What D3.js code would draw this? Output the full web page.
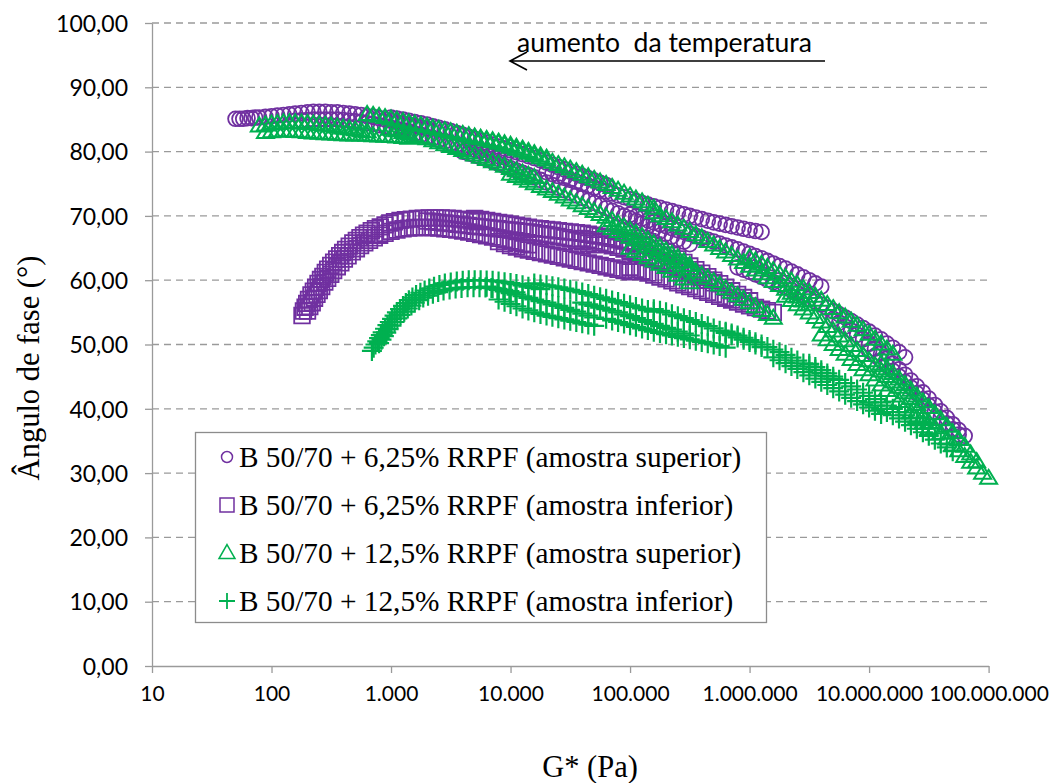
<!DOCTYPE html>
<html><head><meta charset="utf-8">
<script src="https://cdn.jsdelivr.net/npm/d3@7"></script>
<style>body{margin:0;background:#fff}svg{display:block}</style>
</head><body><svg id="c" width="1049" height="783"></svg>
<script>
// ---- data ----
const xTickValues = [10,100,1000,1e4,1e5,1e6,1e7,1e8];
const yTickValues = [0,10,20,30,40,50,60,70,80,90,100];
const seriesNames = [
 "B 50/70 + 6,25% RRPF (amostra superior)",
 "B 50/70 + 6,25% RRPF (amostra inferior)",
 "B 50/70 + 12,5% RRPF (amostra superior)",
 "B 50/70 + 12,5% RRPF (amostra inferior)"];
const annotationText = "aumento  da temperatura";
const xTitle = "G* (Pa)", yTitle = "Ângulo de fase (°)";

// B 50/70 + 6,25% (amostra superior) – [G* (Pa), phase angle (°)] per isotherm
const sup625 = [
 [[50,85.1],[54,85.1],[58,85.1],[63,85.2],[68,85.2],[73,85.3],[79,85.3],[89,85.4],[100,85.5],[112,85.6],[126,85.7],[141,85.8],[158,85.9],[178,86.0],[200,86.1],[224,86.2],[251,86.2],[282,86.2],[316,86.1],[355,86.1],[398,86.0],[447,85.9],[501,85.8],[562,85.7],[631,85.5],[708,85.4],[794,85.2],[891,85.0],[1000,84.8],[1120,84.6],[1260,84.4],[1410,84.2],[1580,84.0],[1780,83.8],[2000,83.6]],
 [[158,84.8],[178,84.85],[200,84.9],[224,85.0],[251,85.0],[282,85.0],[316,85.0],[355,85.0],[398,84.9],[447,84.8],[501,84.7],[562,84.6],[631,84.4],[708,84.3],[794,84.1],[891,83.9],[1000,83.7],[1120,83.5],[1260,83.3],[1410,83.1],[1580,82.8],[1780,82.6],[2000,82.3],[2240,82.1],[2510,81.8],[2820,81.6],[3160,81.3],[3550,81.1],[3980,80.8],[4470,80.6],[5010,80.3],[5620,80.1],[6310,79.8],[7080,79.6],[7940,79.3],[8910,79.1],[1e4,78.8]],
 [[1000,85.3],[1120,85.15],[1260,85.0],[1410,84.8],[1580,84.6],[1780,84.4],[2000,84.2],[2240,83.95],[2510,83.7],[2820,83.45],[3160,83.2],[3550,82.9],[3980,82.6],[4470,82.3],[5010,82.0],[5620,81.7],[6310,81.4],[7080,81.1],[7940,80.8],[8910,80.5],[1e4,80.2],[1.12e4,79.9],[1.26e4,79.6],[1.41e4,79.3],[1.58e4,79.0],[1.78e4,78.65],[2e4,78.3],[2.24e4,77.95],[2.51e4,77.6],[2.82e4,77.25],[3.16e4,76.9],[3.55e4,76.55],[3.98e4,76.2],[4.47e4,75.85],[5.01e4,75.5],[5.62e4,75.15],[6.31e4,74.8]],
 [[2e4,76.8],[2.24e4,76.5],[2.51e4,76.2],[2.82e4,75.9],[3.16e4,75.6],[3.55e4,75.3],[3.98e4,75.0],[4.47e4,74.7],[5.01e4,74.4],[5.62e4,74.1],[6.31e4,73.8],[7.08e4,73.5],[7.94e4,73.2],[8.91e4,72.9],[1e5,72.6],[1.12e5,72.3],[1.26e5,72.0],[1.41e5,71.75],[1.58e5,71.5],[1.78e5,71.25],[2e5,71.0],[2.24e5,70.75],[2.51e5,70.5],[2.82e5,70.25],[3.16e5,70.0],[3.55e5,69.75],[3.98e5,69.5],[4.47e5,69.25],[5.01e5,69.0],[5.62e5,68.8],[6.31e5,68.6],[7.08e5,68.4],[7.94e5,68.2],[8.91e5,68.0],[1e6,67.8],[1.12e6,67.65],[1.26e6,67.5]],
 [[3980,80.0],[4470,79.7],[5010,79.4],[5620,79.1],[6310,78.8],[7080,78.45],[7940,78.1],[8910,77.75],[1e4,77.4],[1.12e4,77.05],[1.26e4,76.7],[1.41e4,76.35],[1.58e4,76.0],[1.78e4,75.6],[2e4,75.2],[2.24e4,74.8],[2.51e4,74.4],[2.82e4,74.0],[3.16e4,73.6],[3.55e4,73.2],[3.98e4,72.8],[4.47e4,72.4],[5.01e4,72.0],[5.62e4,71.6],[6.31e4,71.2],[7.08e4,70.8],[7.94e4,70.4],[8.91e4,70.0],[1e5,69.6],[1.12e5,69.2],[1.26e5,68.8],[1.41e5,68.4],[1.58e5,68.0],[1.78e5,67.6],[2e5,67.2],[2.24e5,66.8],[2.51e5,66.4],[2.82e5,66.0],[3.16e5,65.6]],
 [[1e5,70.2],[1.12e5,69.9],[1.26e5,69.6],[1.41e5,69.3],[1.58e5,69.0],[1.78e5,68.7],[2e5,68.4],[2.24e5,68.1],[2.51e5,67.8],[2.82e5,67.5],[3.16e5,67.2],[3.55e5,66.9],[3.98e5,66.6],[4.47e5,66.3],[5.01e5,66.0],[5.62e5,65.7],[6.31e5,65.4],[7.08e5,65.1],[7.94e5,64.8],[8.91e5,64.45],[1e6,64.1],[1.12e6,63.75],[1.26e6,63.4],[1.41e6,63.0],[1.58e6,62.6],[1.78e6,62.2],[2e6,61.8],[2.24e6,61.35],[2.51e6,60.9],[2.82e6,60.45],[3.16e6,60.0],[3.55e6,59.5],[3.98e6,59.0]],
 [[7.94e5,62.0],[8.91e5,61.65],[1e6,61.3],[1.12e6,60.9],[1.26e6,60.5],[1.41e6,60.1],[1.58e6,59.7],[1.78e6,59.3],[2e6,58.9],[2.24e6,58.45],[2.51e6,58.0],[2.82e6,57.55],[3.16e6,57.1],[3.55e6,56.65],[3.98e6,56.2],[4.47e6,55.7],[5.01e6,55.2],[5.62e6,54.7],[6.31e6,54.2],[7.08e6,53.65],[7.94e6,53.1],[8.91e6,52.55],[1e7,52.0],[1.12e7,51.4],[1.26e7,50.8],[1.41e7,50.15],[1.58e7,49.5],[1.78e7,48.8],[2e7,48.0]],
 [[5.01e6,54.0],[5.62e6,53.4],[6.31e6,52.8],[7.08e6,52.15],[7.94e6,51.5],[8.91e6,50.8],[1e7,50.1],[1.12e7,49.35],[1.26e7,48.6],[1.41e7,47.8],[1.58e7,47.0],[1.78e7,46.15],[2e7,45.3],[2.24e7,44.4],[2.51e7,43.5],[2.82e7,42.55],[3.16e7,41.6],[3.55e7,40.6],[3.98e7,39.6],[4.47e7,38.6],[5.01e7,37.6],[5.62e7,36.7],[6.31e7,35.8]],
 [[1e7,49.0],[1.12e7,48.25],[1.26e7,47.5],[1.41e7,46.7],[1.58e7,45.9],[1.78e7,45.05],[2e7,44.2],[2.24e7,43.3],[2.51e7,42.4],[2.82e7,41.45],[3.16e7,40.5],[3.55e7,39.55],[3.98e7,38.6],[4.47e7,37.7],[5.01e7,36.8],[5.62e7,36.0]]
];
// B 50/70 + 6,25% (amostra inferior)
const inf625 = [
 [[180,54.5],[185,55.2],[191,55.8],[197,56.4],[204,57.0],[214,57.7],[224,58.3],[234,58.9],[245,59.5],[257,60.1],[269,60.6],[282,61.2],[295,61.7],[313,62.3],[331,62.8],[351,63.3],[372,63.8],[394,64.3],[417,64.8],[447,65.3],[479,65.8],[513,66.2],[550,66.6],[589,67.0],[631,67.3],[684,67.7],[741,68.0],[813,68.3],[891,68.6],[977,68.9],[1070,69.1],[1190,69.3],[1320,69.4],[1480,69.5],[1660,69.6],[1860,69.65],[2090,69.7],[2340,69.7],[2630,69.7],[2950,69.65],[3310,69.6],[3720,69.5],[4170,69.4],[4680,69.25],[5250,69.1]],
 [[200,55.2],[209,55.9],[219,56.5],[229,57.2],[240,57.8],[251,58.4],[263,59.0],[279,59.7],[295,60.3],[313,60.9],[331,61.5],[355,62.1],[380,62.7],[407,63.3],[437,63.8],[474,64.4],[513,64.9],[556,65.4],[603,65.8],[661,66.2],[724,66.6],[803,67.0],[891,67.3],[1000,67.6],[1120,67.8],[1260,68.0],[1410,68.1],[1580,68.2],[1780,68.2],[2000,68.2],[2240,68.2],[2510,68.1],[2820,68.0],[3160,67.9],[3550,67.8],[3980,67.65],[4470,67.5],[5010,67.3],[5620,67.1],[6310,66.9],[7080,66.7],[7940,66.5],[8910,66.3],[1e4,66.1],[1.12e4,65.9],[1.26e4,65.7],[1.41e4,65.5]],
 [[2000,69.2],[2240,69.1],[2510,69.0],[2820,68.9],[3160,68.8],[3550,68.7],[3980,68.6],[4470,68.5],[5010,68.4],[5620,68.3],[6310,68.2],[7080,68.1],[7940,68.0],[8910,67.9],[1e4,67.8],[1.12e4,67.7],[1.26e4,67.6],[1.41e4,67.5],[1.58e4,67.4],[1.78e4,67.25],[2e4,67.1],[2.24e4,66.95],[2.51e4,66.8],[2.82e4,66.6],[3.16e4,66.4],[3.55e4,66.2],[3.98e4,66.0],[4.47e4,65.75],[5.01e4,65.5]],
 [[5010,69.6],[5620,69.45],[6310,69.3],[7080,69.15],[7940,69.0],[8910,68.85],[1e4,68.7],[1.12e4,68.55],[1.26e4,68.4],[1.41e4,68.25],[1.58e4,68.1],[1.78e4,68.0],[2e4,67.9],[2.24e4,67.8],[2.51e4,67.7],[2.82e4,67.6],[3.16e4,67.5],[3.55e4,67.4],[3.98e4,67.3],[4.47e4,67.15],[5.01e4,67.0],[5.62e4,66.85],[6.31e4,66.7],[7.08e4,66.5],[7.94e4,66.3],[8.91e4,66.1],[1e5,65.9],[1.12e5,65.65],[1.26e5,65.4]],
 [[7940,66.0],[8910,65.7],[1e4,65.4],[1.12e4,65.15],[1.26e4,64.9],[1.41e4,64.7],[1.58e4,64.5],[1.78e4,64.3],[2e4,64.1],[2.24e4,63.9],[2.51e4,63.7],[2.82e4,63.5],[3.16e4,63.3],[3.55e4,63.1],[3.98e4,62.9],[4.47e4,62.7],[5.01e4,62.5],[5.62e4,62.3],[6.31e4,62.1],[7.08e4,61.9],[7.94e4,61.7],[8.91e4,61.5],[1e5,61.3]],
 [[3.98e4,66.5],[4.47e4,66.3],[5.01e4,66.1],[5.62e4,65.85],[6.31e4,65.6],[7.08e4,65.35],[7.94e4,65.1],[8.91e4,64.85],[1e5,64.6],[1.12e5,64.3],[1.26e5,64.0],[1.41e5,63.7],[1.58e5,63.4],[1.78e5,63.05],[2e5,62.7],[2.24e5,62.35],[2.51e5,62.0],[2.82e5,61.6],[3.16e5,61.2],[3.55e5,60.8],[3.98e5,60.4],[4.47e5,60.0],[5.01e5,59.6]],
 [[1e5,62.0],[1.12e5,61.7],[1.26e5,61.4],[1.41e5,61.1],[1.58e5,60.8],[1.78e5,60.5],[2e5,60.2],[2.24e5,59.9],[2.51e5,59.6],[2.82e5,59.3],[3.16e5,59.0],[3.55e5,58.7],[3.98e5,58.4],[4.47e5,58.1],[5.01e5,57.8],[5.62e5,57.5],[6.31e5,57.2],[7.08e5,56.9],[7.94e5,56.6],[8.91e5,56.3],[1e6,56.0],[1.12e6,55.75],[1.26e6,55.5],[1.41e6,55.25],[1.58e6,55.0]],
 [[1.26e5,66.5],[1.41e5,66.0],[1.58e5,65.5],[1.78e5,64.95],[2e5,64.4],[2.24e5,63.85],[2.51e5,63.3],[2.82e5,62.75],[3.16e5,62.2],[3.55e5,61.65],[3.98e5,61.1],[4.47e5,60.55],[5.01e5,60.0],[5.62e5,59.45],[6.31e5,58.9],[7.08e5,58.35],[7.94e5,57.8],[8.91e5,57.3],[1e6,56.8]]
];
// B 50/70 + 12,5% (amostra superior)
const sup125 = [
 [[79,84.0],[89,84.15],[100,84.3],[112,84.4],[126,84.5],[141,84.5],[158,84.5],[178,84.45],[200,84.4],[224,84.3],[251,84.2],[282,84.1],[316,84.0],[355,83.85],[398,83.7],[447,83.55],[501,83.4],[562,83.25],[631,83.1]],
 [[89,83.0],[100,83.1],[112,83.2],[126,83.2],[141,83.2],[158,83.15],[178,83.1],[200,83.0],[224,82.9],[251,82.85],[282,82.8],[316,82.75],[355,82.7],[398,82.65],[447,82.6],[501,82.6],[562,82.6],[631,82.55],[708,82.5],[794,82.45],[891,82.4],[1000,82.35],[1120,82.3],[1260,82.2],[1410,82.1]],
 [[631,85.8],[708,85.65],[794,85.5],[891,85.3],[1000,85.1],[1120,84.9],[1260,84.7],[1410,84.5],[1580,84.3],[1780,84.1],[2000,83.9],[2240,83.7],[2510,83.5],[2820,83.3],[3160,83.1],[3550,82.9],[3980,82.7],[4470,82.5],[5010,82.3],[5620,82.1],[6310,81.9],[7080,81.7],[7940,81.5],[8910,81.25],[1e4,81.0],[1.12e4,80.7],[1.26e4,80.4],[1.41e4,80.05],[1.58e4,79.7],[1.78e4,79.35],[2e4,79.0]],
 [[1000,83.5],[1120,83.25],[1260,83.0],[1410,82.75],[1580,82.5],[1780,82.25],[2000,82.0],[2240,81.7],[2510,81.4],[2820,81.1],[3160,80.8],[3550,80.5],[3980,80.2],[4470,79.85],[5010,79.5],[5620,79.15],[6310,78.8],[7080,78.45],[7940,78.1],[8910,77.75],[1e4,77.4],[1.12e4,77.05],[1.26e4,76.7],[1.41e4,76.35],[1.58e4,76.0]],
 [[5010,82.2],[5620,82.0],[6310,81.8],[7080,81.55],[7940,81.3],[8910,81.0],[1e4,80.7],[1.12e4,80.4],[1.26e4,80.1],[1.41e4,79.75],[1.58e4,79.4],[1.78e4,79.05],[2e4,78.7],[2.24e4,78.35],[2.51e4,78.0],[2.82e4,77.65],[3.16e4,77.3],[3.55e4,76.9],[3.98e4,76.5],[4.47e4,76.1],[5.01e4,75.7],[5.62e4,75.3],[6.31e4,74.9],[7.08e4,74.45],[7.94e4,74.0],[8.91e4,73.55],[1e5,73.1],[1.12e5,72.65],[1.26e5,72.2],[1.41e5,71.7],[1.58e5,71.2]],
 [[1e4,76.5],[1.12e4,76.15],[1.26e4,75.8],[1.41e4,75.4],[1.58e4,75.0],[1.78e4,74.6],[2e4,74.2],[2.24e4,73.8],[2.51e4,73.4],[2.82e4,72.95],[3.16e4,72.5],[3.55e4,72.05],[3.98e4,71.6],[4.47e4,71.15],[5.01e4,70.7],[5.62e4,70.25],[6.31e4,69.8],[7.08e4,69.3],[7.94e4,68.8],[8.91e4,68.3],[1e5,67.8],[1.12e5,67.3],[1.26e5,66.8],[1.41e5,66.25],[1.58e5,65.7],[1.78e5,65.15],[2e5,64.6],[2.24e5,64.05],[2.51e5,63.5],[2.82e5,62.9],[3.16e5,62.3]],
 [[6.31e4,68.5],[7.08e4,68.05],[7.94e4,67.6],[8.91e4,67.15],[1e5,66.7],[1.12e5,66.25],[1.26e5,65.8],[1.41e5,65.3],[1.58e5,64.8],[1.78e5,64.3],[2e5,63.8],[2.24e5,63.3],[2.51e5,62.8],[2.82e5,62.3],[3.16e5,61.8],[3.55e5,61.3],[3.98e5,60.8],[4.47e5,60.3],[5.01e5,59.8],[5.62e5,59.25],[6.31e5,58.7],[7.08e5,58.15],[7.94e5,57.6],[8.91e5,57.05],[1e6,56.5],[1.12e6,55.9],[1.26e6,55.3],[1.41e6,54.7],[1.58e6,54.1]],
 [[1e5,65.0],[1.12e5,64.5],[1.26e5,64.0],[1.41e5,63.5],[1.58e5,63.0],[1.78e5,62.5],[2e5,62.0],[2.24e5,61.4],[2.51e5,60.8],[2.82e5,60.2],[3.16e5,59.6]],
 [[1.58e5,70.5],[1.78e5,70.05],[2e5,69.6],[2.24e5,69.1],[2.51e5,68.6],[2.82e5,68.1],[3.16e5,67.6],[3.55e5,67.1],[3.98e5,66.6],[4.47e5,66.05],[5.01e5,65.5],[5.62e5,64.95],[6.31e5,64.4],[7.08e5,63.85],[7.94e5,63.3],[8.91e5,62.75],[1e6,62.2],[1.12e6,61.6],[1.26e6,61.0],[1.41e6,60.4],[1.58e6,59.8],[1.78e6,59.2],[2e6,58.6],[2.24e6,58.0],[2.51e6,57.4],[2.82e6,56.8],[3.16e6,56.2]],
 [[1e6,63.5],[1.12e6,63.0],[1.26e6,62.5],[1.41e6,62.0],[1.58e6,61.5],[1.78e6,60.95],[2e6,60.4],[2.24e6,59.85],[2.51e6,59.3],[2.82e6,58.7],[3.16e6,58.1],[3.55e6,57.5],[3.98e6,56.9],[4.47e6,56.25],[5.01e6,55.6],[5.62e6,54.95],[6.31e6,54.3],[7.08e6,53.65],[7.94e6,53.0],[8.91e6,52.3],[1e7,51.6],[1.12e7,50.85],[1.26e7,50.1],[1.41e7,49.3],[1.58e7,48.5]],
 [[2e6,57.5],[2.24e6,56.85],[2.51e6,56.2],[2.82e6,55.55],[3.16e6,54.9],[3.55e6,54.2],[3.98e6,53.5],[4.47e6,52.8],[5.01e6,52.1],[5.62e6,51.35],[6.31e6,50.6],[7.08e6,49.85],[7.94e6,49.1],[8.91e6,48.3],[1e7,47.5],[1.12e7,46.7],[1.26e7,45.9],[1.41e7,45.05],[1.58e7,44.2],[1.78e7,43.35],[2e7,42.5],[2.24e7,41.6],[2.51e7,40.7]],
 [[3.98e6,51.5],[4.47e6,50.75],[5.01e6,50.0],[5.62e6,49.25],[6.31e6,48.5],[7.08e6,47.7],[7.94e6,46.9],[8.91e6,46.1],[1e7,45.3],[1.12e7,44.5],[1.26e7,43.7],[1.41e7,42.85],[1.58e7,42.0],[1.78e7,41.15],[2e7,40.3],[2.24e7,39.45],[2.51e7,38.6],[2.82e7,37.75],[3.16e7,36.9]],
 [[1.26e7,47.0],[1.41e7,46.25],[1.58e7,45.5],[1.78e7,44.65],[2e7,43.8],[2.24e7,42.9],[2.51e7,42.0],[2.82e7,41.1],[3.16e7,40.2],[3.55e7,39.25],[3.98e7,38.3],[4.47e7,37.3],[5.01e7,36.3],[5.62e7,35.25],[6.31e7,34.2],[7.08e7,33.0],[7.94e7,31.8]],
 [[2.51e7,39.5],[2.82e7,38.7],[3.16e7,37.9],[3.55e7,37.05],[3.98e7,36.2],[4.47e7,35.3],[5.01e7,34.4],[5.62e7,33.5],[6.31e7,32.6],[7.08e7,31.7],[7.94e7,30.8],[8.91e7,30.0],[1e8,29.2]]
];
// B 50/70 + 12,5% (amostra inferior)
const inf125 = [
 [[692,49.0],[716,49.5],[741,50.0],[767,50.5],[794,51.0],[822,51.45],[851,51.9],[891,52.45],[933,53.0],[977,53.5],[1020,54.0],[1070,54.5],[1120,55.0],[1190,55.5],[1260,56.0],[1330,56.45],[1410,56.9],[1510,57.3],[1620,57.7],[1760,58.05],[1910,58.4],[2090,58.7],[2290,59.0],[2540,59.25],[2820,59.5],[3160,59.65],[3550,59.8],[3980,59.9],[4470,60.0],[5010,60.0],[5620,60.0],[6310,59.95],[7080,59.9],[7940,59.8],[8910,59.7],[1e4,59.55],[1.12e4,59.4],[1.26e4,59.2],[1.41e4,59.0],[1.58e4,58.8],[1.78e4,58.6]],
 [[794,50.2],[832,50.75],[871,51.3],[912,51.85],[955,52.4],[1010,52.95],[1070,53.5],[1130,54.05],[1200,54.6],[1290,55.1],[1380,55.6],[1480,56.05],[1580,56.5],[1720,56.9],[1860,57.3],[2040,57.6],[2240,57.9],[2480,58.15],[2750,58.4],[3090,58.55],[3470,58.7],[3890,58.8],[4370,58.9],[4900,58.9],[5500,58.9],[6170,58.85],[6920,58.8],[7760,58.65],[8710,58.5],[9770,58.3],[1.1e4,58.1]],
 [[6310,59.0],[7080,58.75],[7940,58.5],[8910,58.25],[1e4,58.0],[1.12e4,57.75],[1.26e4,57.5],[1.41e4,57.25],[1.58e4,57.0],[1.78e4,56.75],[2e4,56.5],[2.24e4,56.25],[2.51e4,56.0],[2.82e4,55.7],[3.16e4,55.4],[3.55e4,55.1],[3.98e4,54.8],[4.47e4,54.5],[5.01e4,54.2]],
 [[7940,57.0],[8910,56.65],[1e4,56.3],[1.12e4,55.95],[1.26e4,55.6],[1.41e4,55.3],[1.58e4,55.0],[1.78e4,54.75],[2e4,54.5],[2.24e4,54.3],[2.51e4,54.1],[2.82e4,53.9],[3.16e4,53.7],[3.55e4,53.5],[3.98e4,53.3],[4.47e4,53.1],[5.01e4,52.9]],
 [[1.58e4,59.5],[1.78e4,59.35],[2e4,59.2],[2.24e4,59.05],[2.51e4,58.9],[2.82e4,58.7],[3.16e4,58.5],[3.55e4,58.3],[3.98e4,58.1],[4.47e4,57.85],[5.01e4,57.6],[5.62e4,57.35],[6.31e4,57.1],[7.08e4,56.85],[7.94e4,56.6],[8.91e4,56.35],[1e5,56.1],[1.12e5,55.85],[1.26e5,55.6],[1.41e5,55.35],[1.58e5,55.1]],
 [[3.98e4,56.5],[4.47e4,56.25],[5.01e4,56.0],[5.62e4,55.75],[6.31e4,55.5],[7.08e4,55.25],[7.94e4,55.0],[8.91e4,54.7],[1e5,54.4],[1.12e5,54.1],[1.26e5,53.8],[1.41e5,53.5],[1.58e5,53.2],[1.78e5,52.9],[2e5,52.6],[2.24e5,52.3],[2.51e5,52.0],[2.82e5,51.7],[3.16e5,51.4]],
 [[6.31e4,54.0],[7.08e4,53.75],[7.94e4,53.5],[8.91e4,53.25],[1e5,53.0],[1.12e5,52.75],[1.26e5,52.5],[1.41e5,52.25],[1.58e5,52.0],[1.78e5,51.8],[2e5,51.6],[2.24e5,51.4],[2.51e5,51.2],[2.82e5,51.0],[3.16e5,50.8],[3.55e5,50.6],[3.98e5,50.4],[4.47e5,50.2],[5.01e5,50.0],[5.62e5,49.75],[6.31e5,49.5]],
 [[1.58e5,55.5],[1.78e5,55.25],[2e5,55.0],[2.24e5,54.7],[2.51e5,54.4],[2.82e5,54.1],[3.16e5,53.8],[3.55e5,53.5],[3.98e5,53.2],[4.47e5,52.85],[5.01e5,52.5],[5.62e5,52.15],[6.31e5,51.8],[7.08e5,51.45],[7.94e5,51.1],[8.91e5,50.75],[1e6,50.4],[1.12e6,50.0],[1.26e6,49.6]],
 [[6.31e5,52.0],[7.08e5,51.7],[7.94e5,51.4],[8.91e5,51.05],[1e6,50.7],[1.12e6,50.35],[1.26e6,50.0],[1.41e6,49.6],[1.58e6,49.2],[1.78e6,48.8],[2e6,48.4],[2.24e6,47.95],[2.51e6,47.5],[2.82e6,47.05],[3.16e6,46.6],[3.55e6,46.1],[3.98e6,45.6],[4.47e6,45.1],[5.01e6,44.6]],
 [[1.58e6,48.0],[1.78e6,47.55],[2e6,47.1],[2.24e6,46.65],[2.51e6,46.2],[2.82e6,45.7],[3.16e6,45.2],[3.55e6,44.7],[3.98e6,44.2],[4.47e6,43.7],[5.01e6,43.2],[5.62e6,42.7],[6.31e6,42.2],[7.08e6,41.7],[7.94e6,41.2],[8.91e6,40.7],[1e7,40.2],[1.12e7,39.7],[1.26e7,39.2]],
 [[3.16e6,47.0],[3.55e6,46.5],[3.98e6,46.0],[4.47e6,45.5],[5.01e6,45.0],[5.62e6,44.5],[6.31e6,44.0],[7.08e6,43.5],[7.94e6,43.0],[8.91e6,42.5],[1e7,42.0],[1.12e7,41.5],[1.26e7,41.0],[1.41e7,40.5],[1.58e7,40.0],[1.78e7,39.5],[2e7,39.0],[2.24e7,38.5],[2.51e7,38.0],[2.82e7,37.45],[3.16e7,36.9]],
 [[1e7,41.0],[1.12e7,40.5],[1.26e7,40.0],[1.41e7,39.5],[1.58e7,39.0],[1.78e7,38.5],[2e7,38.0],[2.24e7,37.45],[2.51e7,36.9],[2.82e7,36.35],[3.16e7,35.8],[3.55e7,35.2],[3.98e7,34.6],[4.47e7,34.0],[5.01e7,33.4]]
];

// ---- drawing ----
const purple = "#7030A0", green = "#00B050", axisGray = "#9a9a9a";
const serif = "'Liberation Serif', 'Times New Roman', serif";
const sans = "Lato, 'Open Sans', sans-serif";
const svg = d3.select("#c");
const x = d3.scaleLog().domain([10, 1e8]).range([152, 988.6]);
const y = d3.scaleLinear().domain([0, 100]).range([666, 23]);
const loc = d3.formatLocale({decimal: ",", thousands: ".", grouping: [3], currency: ["", ""]});
const fy = loc.format(",.2f"), fx = loc.format(",.0f");

// gridlines
svg.append("g").selectAll("line").data(yTickValues.filter(v => v > 0)).join("line")
  .attr("x1", x(10)).attr("x2", x(1e8)).attr("y1", d => y(d)).attr("y2", d => y(d))
  .attr("stroke", axisGray).attr("stroke-width", 1.3).attr("stroke-dasharray", "7,5");

// axes
const yAxis = svg.append("g").attr("transform", `translate(${x(10)},0)`)
  .call(d3.axisLeft(y).tickValues(yTickValues).tickFormat(fy).tickSize(7).tickSizeOuter(0).tickPadding(17));
const xAxis = svg.append("g").attr("transform", `translate(0,${y(0)})`)
  .call(d3.axisBottom(x).tickValues(xTickValues).tickFormat(fx).tickSize(7).tickSizeOuter(0).tickPadding(13));
[yAxis, xAxis].forEach(a => {
  a.selectAll("path,line").attr("stroke", axisGray).attr("stroke-width", 1.3);
  a.selectAll("text").attr("fill", "#000").style("font-family", sans);
});
yAxis.selectAll("text").style("font-size", "23px").attr("dy", "0.36em");
xAxis.selectAll("text").style("font-size", "21px");

// marker shapes
function triPath(w, h) { return `M0,${-h*0.6}L${w/2},${h*0.4}L${-w/2},${h*0.4}Z`; }
function plusPath(s) { return `M${-s/2},0H${s/2}M0,${-s/2}V${s/2}`; }

function drawSeries(chains, kind, color) {
  const pts = chains.flat();
  const sel = svg.append("g").selectAll("path").data(pts).join("path")
    .attr("transform", d => `translate(${x(d[0])},${y(d[1])})`)
    .attr("fill", "none").attr("stroke", color);
  if (kind === "circle") sel.attr("d", d3.symbol().type(d3.symbolCircle).size(Math.PI*7.4*7.4)).attr("stroke-width", 1.8);
  if (kind === "square") sel.attr("d", "M-7.8,-7.8H7.8V7.8H-7.8Z").attr("stroke-width", 1.8);
  if (kind === "triangle") sel.attr("d", triPath(17, 14)).attr("stroke-width", 2);
  if (kind === "plus") sel.attr("d", plusPath(20)).attr("stroke-width", 2.2);
}
drawSeries(sup625, "circle", purple);
drawSeries(inf625, "square", purple);
drawSeries(sup125, "triangle", green);
drawSeries(inf125, "plus", green);

// annotation
svg.append("text").attr("x", 517).attr("y", 52).text(annotationText)
  .style("font-family", sans).style("font-size", "27px").style("white-space", "pre")
  .attr("textLength", 295).attr("lengthAdjust", "spacingAndGlyphs");
svg.append("path").attr("d", "M825,61H510M527,52L510,61L527,70")
  .attr("fill", "none").attr("stroke", "#000").attr("stroke-width", 1.6);

// legend
const lg = svg.append("g");
lg.append("rect").attr("x", 195.5).attr("y", 432.5).attr("width", 571).attr("height", 190)
  .attr("fill", "#fff").attr("stroke", "#8c8c8c").attr("stroke-width", 1.3);
const legendKinds = [["circle", purple], ["square", purple], ["triangle", green], ["plus", green]];
const rowY = d3.scaleLinear().domain([0, 3]).range([457, 601]);
legendKinds.forEach(([k, c], i) => {
  const cy = rowY(i), cx = 227;
  const m = lg.append("path").attr("transform", `translate(${cx},${cy})`).attr("fill", "none").attr("stroke", c);
  if (k === "circle") m.attr("d", d3.symbol().type(d3.symbolCircle).size(Math.PI*5.5*5.5)).attr("stroke-width", 1.5);
  if (k === "square") m.attr("d", "M-7,-7H7V7H-7Z").attr("stroke-width", 1.5);
  if (k === "triangle") m.attr("d", triPath(16, 14)).attr("stroke-width", 1.5);
  if (k === "plus") m.attr("d", plusPath(16)).attr("stroke-width", 1.8);
  lg.append("text").attr("x", 239).attr("y", cy + 10).text(seriesNames[i])
    .style("font-family", serif).style("font-size", "29.3px");
});

// axis titles
svg.append("text").attr("transform", "translate(39,368) rotate(-90)").attr("text-anchor", "middle")
  .text(yTitle).style("font-family", serif).style("font-size", "30.5px");
svg.append("text").attr("x", 590).attr("y", 777).attr("text-anchor", "middle")
  .text(xTitle).style("font-family", serif).style("font-size", "30.5px");
</script></body></html>
